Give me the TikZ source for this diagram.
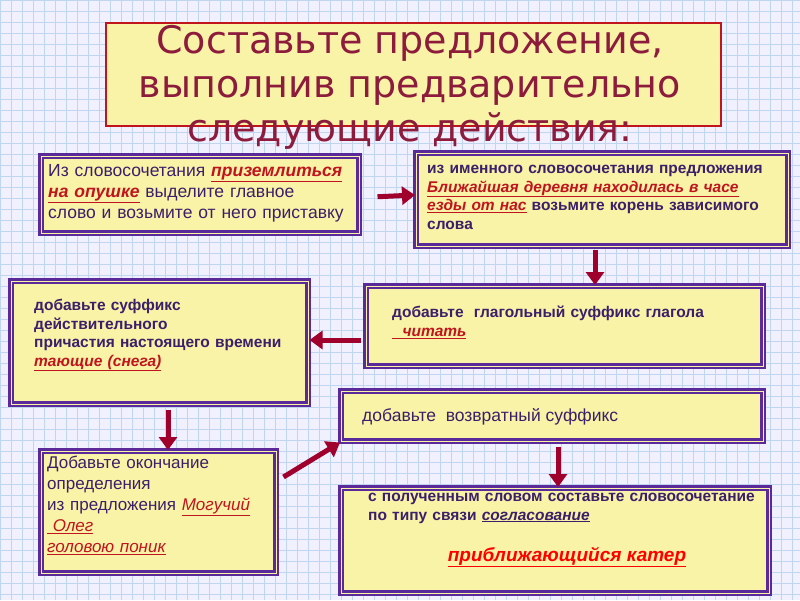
\documentclass[tikz,border=0pt]{standalone}
\usepackage{fontspec}
\setmainfont{Liberation Sans}
\newfontfamily\titlefont{DejaVu Sans}
\usetikzlibrary{arrows.meta}
\definecolor{gridblue}{HTML}{BFD6EE}
\definecolor{cardfill}{HTML}{F8F3A6}
\definecolor{cardedge}{HTML}{5A2A9A}
\definecolor{inktext}{HTML}{3B1F6B}
\definecolor{hlred}{HTML}{C0141E}
\definecolor{arrowred}{HTML}{A0002C}
\definecolor{titlered}{HTML}{8C1B3C}
\newcommand\uln[1]{\underline{#1}}
\newcommand\hl[1]{{\color{hlred}\bfseries\itshape\uln{#1}}}
\tikzset{
  card/.style={draw=cardedge, fill=cardfill, line width=2.5pt, double=cardfill,
    double distance=1pt, anchor=north west, inner sep=0pt},
  cardtext/.style={anchor=north west, align=left, text=inktext, inner sep=0pt,
    font=\fontsize{17.5}{21}\selectfont},
  boldtext/.style={cardtext, font=\bfseries\fontsize{15.5}{18.5}\selectfont},
  bigarrow/.style={draw=arrowred, line width=5pt, -{Triangle[width=18pt,length=13pt]}}
}
\begin{document}
\begin{tikzpicture}[x=1pt,y=-1pt]
  \useasboundingbox (0,0) rectangle (800,600);
  \fill[white!94!blue] (0,0) rectangle (800,600);
  \draw[gridblue, line width=0.5pt, step=11pt] (0,0) grid (800,600);

  %% title
  \node[draw=hlred, fill=cardfill, line width=2pt, minimum width=615pt,
    minimum height=103pt, anchor=north west] (title) at (105,22) {};
  \node[align=center, text=titlered, font=\titlefont\fontsize{38}{44}\selectfont]
    (titletext) at (410,87) {Составьте предложение,\\выполнив предварительно\\следующие действия:};

  %% cards
  \node[card, minimum width=318pt, minimum height=77pt] (b1) at (40,155) {};
  \node[cardtext, text width=315pt] (t1) at (48,164)
    {Из словосочетания \hl{приземлиться}\\\hl{на опушке} выделите главное\\слово и возьмите от него приставку};

  \node[card, minimum width=372pt, minimum height=93pt] (b2) at (415,152) {};
  \node[boldtext, text width=365pt] (t2) at (427,165)
    {из именного словосочетания предложения\\\hl{Ближайшая деревня находилась в часе}\\\hl{езды от нас} возьмите корень зависимого\\слова};

  \node[card, minimum width=297pt, minimum height=123pt] (b3) at (10,280) {};
  \node[boldtext, text width=290pt] (t3) at (34,299)
    {добавьте суффикс\\действительного\\причастия настоящего времени\\\hl{тающие (снега)}};

  \node[card, minimum width=397pt, minimum height=80pt] (b4) at (365,285) {};
  \node[boldtext, text width=380pt] (t4) at (392,306)
    {добавьте \ глагольный суффикс глагола\\\hl{\ \ читать}};

  \node[card, minimum width=422pt, minimum height=50pt] (b5) at (340,390) {};
  \node[cardtext] (t5) at (362,408) {добавьте \ возвратный суффикс};

  \node[card, minimum width=235pt, minimum height=122pt] (b6) at (40,450) {};
  \node[cardtext, text width=228pt, font=\fontsize{17}{21}\selectfont] (t6) at (47,456)
    {Добавьте окончание\\определения\\из предложения \hl{\mdseries Могучий}\\\hl{\mdseries\ Олег}\\\hl{\mdseries головою поник}};

  \node[card, minimum width=428pt, minimum height=105pt] (b7) at (340,487) {};
  \node[boldtext, text width=410pt] (t7) at (368,493)
    {с полученным словом составьте словосочетание\\по типу связи {\itshape\uln{согласование}}};
  \node[text=red, font=\bfseries\itshape\fontsize{19}{22}\selectfont] (t8) at (567,557)
    {\uln{приближающийся катер}};

  %% arrows
  \draw[bigarrow] (b1.east) ++(17,2) -- (b2.west |- {(0,195)});
  \draw[bigarrow] (b2.south -| {(595,0)}) ++(0,2) -- (b4.north -| {(595,0)});
  \draw[bigarrow] (b4.west |- {(0,340)}) ++(-4,0) -- (b3.east |- {(0,340)});
  \draw[bigarrow] (b3.south -| {(168,0)}) ++(0,4) -- (b6.north -| {(168,0)});
  \draw[bigarrow] (b6.north east) ++(6,27) -- (b5.south west);
  \draw[bigarrow] (b5.south -| {(558,0)}) ++(0,4) -- (b7.north -| {(558,0)});
\end{tikzpicture}
\end{document}
